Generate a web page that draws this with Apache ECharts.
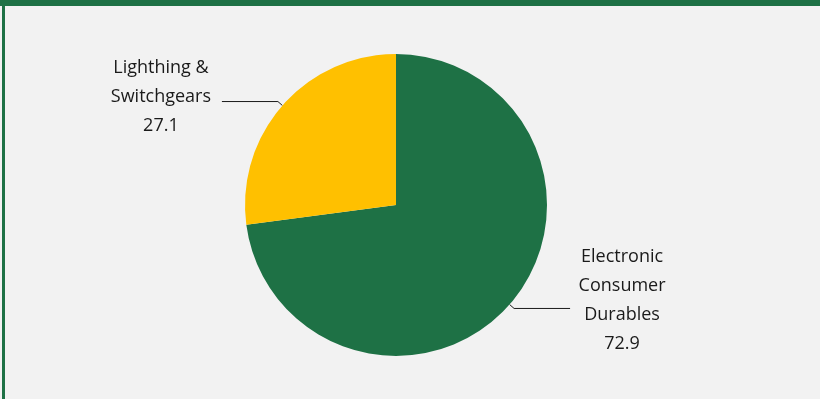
<!DOCTYPE html>
<html>
<head>
<meta charset="utf-8">
<script src="https://cdn.jsdelivr.net/npm/echarts@6/dist/echarts.min.js"></script>
<style>
  html, body { margin: 0; padding: 0; background: #f2f2f2; }
  #wrap { position: relative; width: 820px; height: 399px; }
  #chart { position: absolute; left: 0; top: 0; width: 820px; height: 399px; }
  #topbar { position: absolute; left: 0; top: 0; width: 820px; height: 6px; background: #1e7145; }
  #leftbar { position: absolute; left: 2px; top: 0; width: 3px; height: 399px; background: #1e7145; }
</style>
</head>
<body>
<div id="wrap">
  <div id="chart"></div>
  <div id="topbar"></div>
  <div id="leftbar"></div>
</div>
<script>
// segment data
var names = ['Electronic\nConsumer\nDurables', 'Lighthing &\nSwitchgears'];
var values = [72.9, 27.1];
var colors = ['#1e7145', '#ffc000'];
var labelWidths = [98, 116];
var labelShift = [-8, -5];

var chart = echarts.init(document.getElementById('chart'), null, { renderer: 'canvas' });

var pieData = [];
for (var i = 0; i < values.length; i++) {
  pieData.push({
    name: names[i],
    value: values[i],
    itemStyle: { color: colors[i] },
    label: {
      formatter: function (p) {
        // every line centred inside a fixed width block
        var lines = p.name.split('\n').concat([p.value.toFixed(1)]);
        var key = p.dataIndex == 0 ? 'a' : 'b';
        return lines.map(function (s) { return '{' + key + '|' + s + '}'; }).join('\n');
      }
    }
  });
}

var textStyle = { align: 'center', fontSize: 18, lineHeight: 29, color: '#1a1a1a', fontFamily: 'Open Sans' };

var option = {
  backgroundColor: '#f2f2f2',
  animation: false,
  series: [{
    type: 'pie',
    center: [396, 205],
    radius: 151,
    startAngle: 90,
    clockwise: true,
    data: pieData,
    label: {
      show: true,
      position: 'outside',
      distanceToLabelLine: 3,
      rich: {
        a: Object.assign({ width: labelWidths[0] }, textStyle),
        b: Object.assign({ width: labelWidths[1] }, textStyle)
      }
    },
    labelLine: {
      show: true,
      length: 6,
      length2: 56,
      smooth: false,
      lineStyle: { color: '#1a1a1a', width: 1 }
    },
    labelLayout: function (p) {
      return { dy: labelShift[p.dataIndex] };
    }
  }]
};

chart.setOption(option);
</script>
</body>
</html>
